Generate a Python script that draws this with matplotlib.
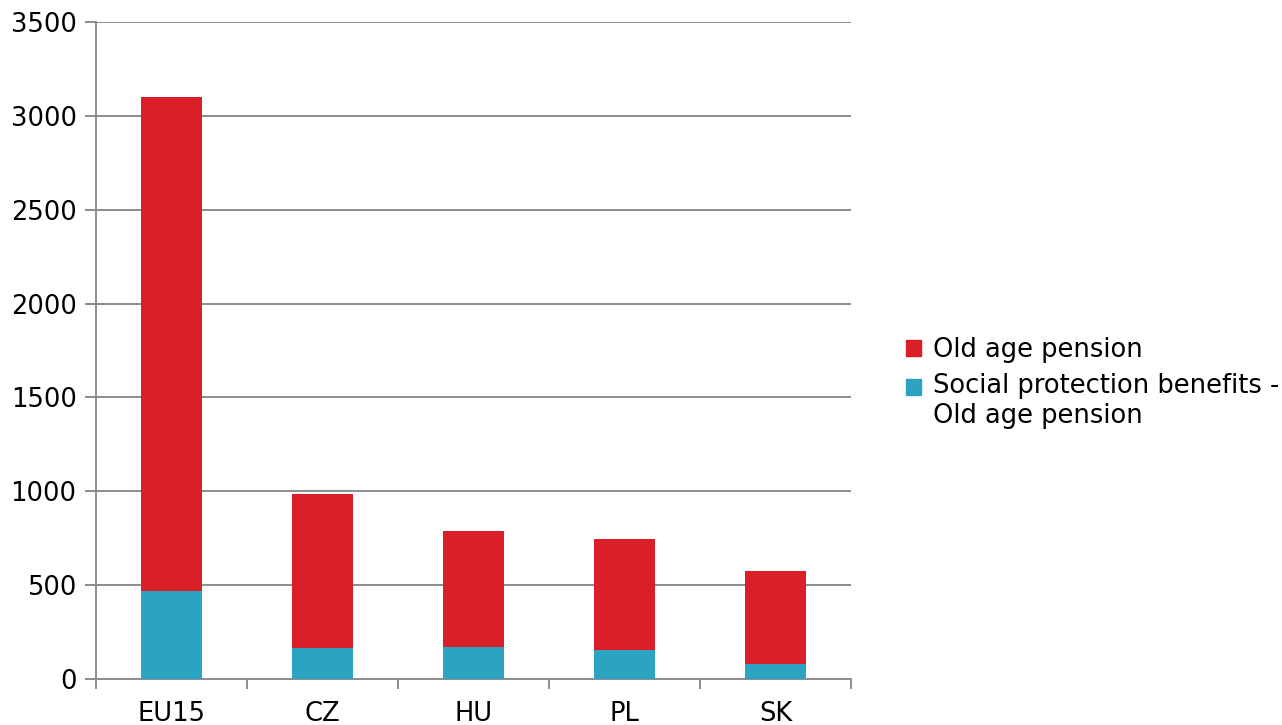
import numpy as np
import matplotlib.pyplot as plt
from matplotlib.patches import Patch, Rectangle
from matplotlib.legend_handler import HandlerPatch

kraje = ["EU15", "CZ", "HU", "PL", "SK"]
razem = [3100, 985, 788, 746, 575]
swiadczenia = [470, 165, 170, 155, 80]
emerytura = [r - s for r, s in zip(razem, swiadczenia)]

kolor_czerwony = "#DA1F28"
kolor_turkus = "#2CA3C0"
kolor_siatki = "#8C8C8C"

fig = plt.figure(figsize=(12.82, 7.25), dpi=100)
ax = fig.add_axes([0.0749, 0.0634, 0.5889, 0.9063])

x = np.arange(len(kraje))
ax.bar(x, swiadczenia, width=0.4, color=kolor_turkus, zorder=3)
ax.bar(x, emerytura, width=0.4, bottom=swiadczenia, color=kolor_czerwony, zorder=3)

ax.set_xlim(-0.5, len(kraje) - 0.5)
ax.set_ylim(0, 3500)
ax.set_yticks(np.arange(0, 3501, 500))
ax.set_xticks(x)
ax.set_xticklabels(kraje)
ax.set_xticks(np.arange(-0.5, len(kraje), 1), minor=True)

ax.yaxis.grid(True, color=kolor_siatki, linewidth=1.4, zorder=0)
ax.set_axisbelow(True)
for s in ["top", "right"]:
    ax.spines[s].set_visible(False)
for s in ["left", "bottom"]:
    ax.spines[s].set_color(kolor_siatki)
    ax.spines[s].set_linewidth(1.4)

ax.tick_params(axis="y", length=8, width=1.4, color=kolor_siatki, pad=6, labelsize=18.5)
ax.tick_params(axis="x", which="major", length=0, pad=16, labelsize=18.5)
ax.tick_params(axis="x", which="minor", length=7, width=1.4, color=kolor_siatki)


# kwadracik legendy wyrownany do pierwszej linii opisu
def kwadrat_w_gore(legend, orig_handle, xdescent, ydescent, width, height, fontsize):
    return Rectangle((-xdescent, -ydescent + 10.5), width, height)


uchwyt_1 = Patch(color=kolor_czerwony, label="Old age pension")
uchwyt_2 = Patch(color=kolor_turkus, label="Social protection benefits -\nOld age pension")
fig.legend(handles=[uchwyt_1, uchwyt_2], loc="center left", bbox_to_anchor=(0.689, 0.472),
           frameon=False, fontsize=18.5, handlelength=0.58, handleheight=0.58,
           handletextpad=0.45, labelspacing=0.4,
           handler_map={uchwyt_2: HandlerPatch(patch_func=kwadrat_w_gore)})

fig.savefig("out.png", dpi=100)
